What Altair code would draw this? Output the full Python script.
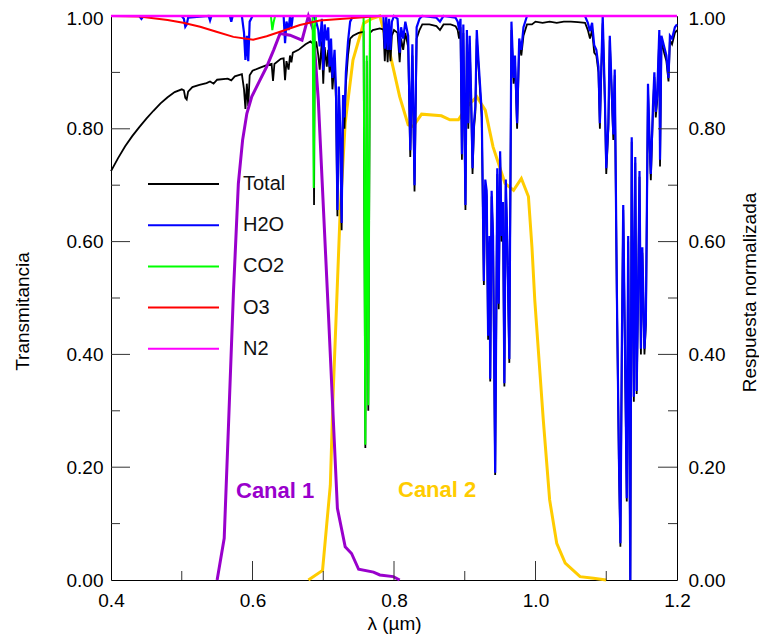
import altair as alt
import pandas as pd

# ---------------- data ----------------
total_lam = [0.400, 0.410, 0.420, 0.430, 0.440, 0.450, 0.460, 0.470, 0.480, 0.490,
             0.500, 0.503, 0.505, 0.507, 0.509, 0.515, 0.525, 0.535, 0.540, 0.545,
             0.550, 0.565, 0.570, 0.575, 0.585, 0.588, 0.590, 0.592, 0.594, 0.596,
             0.600, 0.610, 0.620, 0.627, 0.629, 0.631, 0.640, 0.644, 0.646, 0.648,
             0.651, 0.653, 0.655, 0.657, 0.665, 0.675, 0.682, 0.686, 0.687, 0.688,
             0.690, 0.693, 0.695, 0.698, 0.700, 0.702, 0.705, 0.707, 0.709, 0.711,
             0.713, 0.716, 0.718, 0.720, 0.722, 0.724, 0.726, 0.728, 0.730, 0.732,
             0.735, 0.738, 0.742, 0.750, 0.757, 0.7595, 0.7615, 0.7637, 0.766, 0.770,
             0.780, 0.785, 0.787, 0.789, 0.791, 0.793, 0.795, 0.797, 0.800, 0.805,
             0.808, 0.810, 0.813, 0.816, 0.820, 0.823, 0.826, 0.829, 0.832, 0.836,
             0.840, 0.850, 0.860, 0.865, 0.870, 0.880, 0.887, 0.890, 0.892, 0.894,
             0.896, 0.898, 0.901, 0.903, 0.905, 0.907, 0.909, 0.911, 0.913, 0.915,
             0.917, 0.919, 0.921, 0.924, 0.927, 0.929, 0.931, 0.933, 0.935, 0.936,
             0.938, 0.940, 0.943, 0.946, 0.948, 0.950, 0.952, 0.954, 0.956, 0.958,
             0.960, 0.963, 0.966, 0.969, 0.971, 0.974, 0.977, 0.980, 0.983, 0.988,
             0.995, 1.000, 1.010, 1.020, 1.030, 1.040, 1.050, 1.060, 1.070, 1.074,
             1.077, 1.080, 1.083, 1.086, 1.089, 1.091, 1.093, 1.095, 1.098, 1.100,
             1.103, 1.105, 1.108, 1.110, 1.112, 1.115, 1.118, 1.120, 1.122, 1.124,
             1.126, 1.129, 1.131, 1.132, 1.134, 1.136, 1.138, 1.139, 1.141, 1.143,
             1.145, 1.147, 1.149, 1.151, 1.154, 1.156, 1.159, 1.161, 1.163, 1.166,
             1.168, 1.170, 1.172, 1.175, 1.176, 1.178, 1.182, 1.185, 1.188, 1.190,
             1.193, 1.197, 1.200]
total_T = [0.725, 0.748, 0.769, 0.787, 0.803, 0.818, 0.832, 0.845, 0.856, 0.865,
           0.870, 0.868, 0.855, 0.852, 0.866, 0.874, 0.878, 0.881, 0.884, 0.880,
           0.887, 0.889, 0.886, 0.893, 0.897, 0.870, 0.835, 0.880, 0.840, 0.895,
           0.903, 0.908, 0.913, 0.915, 0.885, 0.915, 0.924, 0.925, 0.886, 0.920,
           0.905, 0.930, 0.918, 0.935, 0.940, 0.950, 0.955, 0.950, 0.665, 0.940,
           0.955, 0.930, 0.905, 0.955, 0.880, 0.945, 0.910, 0.940, 0.900, 0.930,
           0.870, 0.920, 0.850, 0.645, 0.860, 0.780, 0.620, 0.840, 0.800, 0.880,
           0.930, 0.960, 0.965, 0.970, 0.972, 0.234, 0.920, 0.300, 0.970, 0.975,
           0.978, 0.976, 0.920, 0.975, 0.918, 0.970, 0.920, 0.965, 0.975, 0.970,
           0.918, 0.960, 0.940, 0.970, 0.945, 0.750, 0.930, 0.689, 0.960, 0.975,
           0.985, 0.985, 0.982, 0.975, 0.985, 0.985, 0.982, 0.975, 0.960, 0.980,
           0.745, 0.970, 0.656, 0.960, 0.800, 0.950, 0.850, 0.720, 0.800, 0.830,
           0.960, 0.920, 0.880, 0.820, 0.523, 0.700, 0.680, 0.426, 0.600, 0.352,
           0.680, 0.600, 0.186, 0.720, 0.480, 0.750, 0.600, 0.660, 0.343, 0.700,
           0.600, 0.385, 0.975, 0.880, 0.920, 0.800, 0.950, 0.930, 0.965, 0.985,
           0.985, 0.990, 0.988, 0.990, 0.988, 0.990, 0.990, 0.989, 0.988, 0.975,
           0.960, 0.975, 0.935, 0.930, 0.900, 0.800, 0.900, 0.987, 0.850, 0.720,
           0.800, 0.957, 0.850, 0.780, 0.895, 0.500, 0.200, 0.059, 0.400, 0.656,
           0.450, 0.139, 0.600, 0.400, 0.000, 0.777, 0.450, 0.316, 0.740, 0.330,
           0.500, 0.715, 0.400, 0.580, 0.400, 0.452, 0.869, 0.780, 0.709, 0.830,
           0.892, 0.820, 0.850, 0.966, 0.733, 0.955, 0.934, 0.920, 0.884, 0.957,
           0.950, 0.970, 0.975]

h2o_lam = [0.400, 0.440, 0.443, 0.446, 0.500, 0.503, 0.505, 0.507, 0.509, 0.538,
           0.540, 0.542, 0.568, 0.570, 0.572, 0.585, 0.588, 0.590, 0.592, 0.594,
           0.596, 0.600, 0.644, 0.646, 0.648, 0.651, 0.653, 0.655, 0.657, 0.686,
           0.690, 0.693, 0.695, 0.698, 0.700, 0.702, 0.705, 0.707, 0.709, 0.711,
           0.713, 0.716, 0.718, 0.720, 0.722, 0.724, 0.726, 0.728, 0.730, 0.732,
           0.735, 0.738, 0.742, 0.785, 0.787, 0.789, 0.791, 0.793, 0.795, 0.797,
           0.800, 0.805, 0.808, 0.810, 0.813, 0.816, 0.820, 0.823, 0.826, 0.829,
           0.832, 0.836, 0.840, 0.860, 0.865, 0.870, 0.887, 0.890, 0.892, 0.894,
           0.896, 0.898, 0.901, 0.903, 0.905, 0.907, 0.909, 0.911, 0.913, 0.915,
           0.917, 0.919, 0.921, 0.924, 0.927, 0.929, 0.931, 0.933, 0.935, 0.936,
           0.938, 0.940, 0.943, 0.946, 0.948, 0.950, 0.952, 0.954, 0.956, 0.958,
           0.960, 0.963, 0.966, 0.969, 0.971, 0.974, 0.977, 0.980, 0.983, 0.988,
           1.070, 1.074, 1.077, 1.080, 1.083, 1.086, 1.089, 1.091, 1.093, 1.095,
           1.098, 1.100, 1.103, 1.105, 1.108, 1.110, 1.112, 1.115, 1.118, 1.120,
           1.122, 1.124, 1.126, 1.129, 1.131, 1.132, 1.134, 1.136, 1.138, 1.139,
           1.141, 1.143, 1.145, 1.147, 1.149, 1.151, 1.154, 1.156, 1.159, 1.161,
           1.163, 1.166, 1.168, 1.170, 1.172, 1.175, 1.176, 1.178, 1.182, 1.185,
           1.188, 1.190, 1.193, 1.197, 1.200]
h2o_T = [1.000, 1.000, 0.995, 1.000, 1.000, 0.995, 0.981, 0.985, 0.997, 1.000,
         0.992, 1.000, 1.000, 0.990, 1.000, 1.000, 0.970, 0.922, 0.965, 0.920,
         0.990, 1.000, 1.000, 0.952, 0.990, 0.975, 1.000, 0.980, 1.000, 1.000,
         0.990, 0.975, 0.946, 0.995, 0.904, 0.985, 0.957, 0.980, 0.910, 0.960,
         0.890, 0.940, 0.870, 0.656, 0.875, 0.800, 0.633, 0.860, 0.820, 0.900,
         0.955, 0.990, 1.000, 1.000, 0.942, 1.000, 0.940, 0.995, 0.940, 0.990,
         1.000, 0.995, 0.935, 0.980, 0.960, 0.990, 0.965, 0.762, 0.950, 0.700,
         0.980, 0.995, 1.000, 0.997, 0.990, 1.000, 0.997, 0.990, 0.975, 0.995,
         0.755, 0.985, 0.665, 0.975, 0.810, 0.965, 0.860, 0.730, 0.810, 0.840,
         0.975, 0.930, 0.890, 0.830, 0.530, 0.710, 0.690, 0.433, 0.610, 0.357,
         0.690, 0.610, 0.190, 0.730, 0.490, 0.760, 0.610, 0.670, 0.349, 0.710,
         0.610, 0.392, 0.990, 0.890, 0.930, 0.810, 0.960, 0.940, 0.980, 1.000,
         1.000, 0.988, 0.973, 0.988, 0.948, 0.940, 0.910, 0.810, 0.910, 1.000,
         0.860, 0.730, 0.810, 0.965, 0.860, 0.790, 0.905, 0.510, 0.210, 0.065,
         0.410, 0.665, 0.460, 0.145, 0.610, 0.410, 0.000, 0.785, 0.460, 0.325,
         0.750, 0.335, 0.510, 0.725, 0.410, 0.590, 0.410, 0.460, 0.880, 0.790,
         0.720, 0.840, 0.900, 0.830, 0.860, 0.975, 0.745, 0.965, 0.945, 0.930,
         0.890, 0.965, 0.960, 0.980, 0.985]

co2_lam = [0.400, 0.626, 0.628, 0.630, 0.632, 0.685, 0.6865, 0.688, 0.690, 0.757,
           0.7595, 0.7615, 0.7637, 0.766, 1.200]
co2_T = [1.000, 1.000, 0.975, 0.990, 1.000, 1.000, 0.695, 0.980, 1.000, 1.000,
         0.240, 0.930, 0.310, 1.000, 1.000]

o3_lam = [0.400, 0.440, 0.480, 0.502, 0.526, 0.549, 0.573, 0.601, 0.620, 0.639,
          0.667, 0.695, 0.738, 0.780, 1.200]
o3_T = [1.000, 0.999, 0.993, 0.988, 0.981, 0.972, 0.963, 0.958, 0.964, 0.972,
        0.984, 0.992, 0.996, 1.000, 1.000]

n2_lam = [0.400, 1.200]
n2_T = [1.000, 1.000]

canal1_lam = [0.550, 0.560, 0.566, 0.573, 0.580, 0.586, 0.592, 0.599, 0.610, 0.620,
              0.630, 0.639, 0.653, 0.670, 0.679, 0.686, 0.693, 0.707, 0.720, 0.726,
              0.731, 0.740, 0.750, 0.771, 0.780, 0.799, 0.808]
canal1_R = [0.000, 0.074, 0.272, 0.508, 0.703, 0.780, 0.827, 0.857, 0.885, 0.910,
            0.940, 0.969, 0.966, 0.957, 1.000, 0.975, 0.851, 0.480, 0.127, 0.090,
            0.059, 0.047, 0.019, 0.014, 0.009, 0.006, 0.000]

canal2_lam = [0.679, 0.699, 0.705, 0.710, 0.714, 0.718, 0.724, 0.731, 0.742, 0.757,
              0.770, 0.780, 0.794, 0.808, 0.820, 0.827, 0.839, 0.867, 0.879, 0.891,
              0.903, 0.917, 0.929, 0.940, 0.957, 0.969, 0.980, 0.990, 0.995, 0.999,
              1.011, 1.020, 1.030, 1.042, 1.063, 1.082, 1.100]
canal2_R = [0.000, 0.017, 0.100, 0.168, 0.331, 0.460, 0.656, 0.810, 0.922, 0.987,
            0.996, 1.000, 0.935, 0.857, 0.807, 0.804, 0.826, 0.823, 0.816, 0.816,
            0.839, 0.857, 0.833, 0.768, 0.703, 0.691, 0.712, 0.680, 0.590, 0.496,
            0.284, 0.142, 0.065, 0.030, 0.006, 0.003, 0.000]

x_tick_labels = [0.4, 0.6, 0.8, 1.0, 1.2]
y_tick_labels = [0.0, 0.2, 0.4, 0.6, 0.8, 1.0]
x_major_ticks = [0.6, 0.8, 1.0]
x_minor_ticks = [0.5, 0.7, 0.9, 1.1]
y_major_ticks = [0.2, 0.4, 0.6, 0.8]
y_minor_ticks = [0.1, 0.3, 0.5, 0.7, 0.9]

legend_names = ["Total", "H2O", "CO2", "O3", "N2"]
legend_colors = ["#000000", "#0000FF", "#00FF00", "#FF0000", "#FF00FF"]

# ---------------- chart ----------------
W, H = 566, 564
FONT = "Liberation Sans"

xscale = alt.Scale(domain=[0.4, 1.2], nice=False, zero=False)
yscale = alt.Scale(domain=[0.0, 1.0], nice=False, zero=False)

x_axis = alt.Axis(values=x_tick_labels, format=".1f", title="λ (µm)",
                  labelPadding=11, titlePadding=4, ticks=False, tickSize=0,
                  labelFlush=False, domain=False, grid=False)
X = alt.X("lam:Q", scale=xscale, axis=x_axis)

top_label_offset = {"condition": {"test": "datum.value >= 0.99", "value": 2}, "value": 0}

left_axis = alt.Axis(orient="left", values=y_tick_labels, format=".2f",
                     title="Transmitancia", labelPadding=8, ticks=False, tickSize=0,
                     labelFlush=False, labelOffset=top_label_offset,
                     domain=False, grid=False, titleX=-89, titleY=295,
                     titleAngle=270, titleBaseline="middle", titleAlign="center")
right_axis = alt.Axis(orient="right", values=y_tick_labels, format=".2f",
                      title="Respuesta normalizada", labelPadding=11, ticks=False,
                      tickSize=0, labelFlush=False, labelOffset=top_label_offset,
                      domain=False, grid=False,
                      titleX=72, titleY=276, titleAngle=270,
                      titleBaseline="middle", titleAlign="center")


def df(lam, val):
    return pd.DataFrame({"lam": lam, "T": val})


def line(lam, val, color, width, axis=None):
    return alt.Chart(df(lam, val)).mark_line(color=color, strokeWidth=width).encode(
        x=X, y=alt.Y("T:Q", scale=yscale, axis=axis))


layers = [
    line(canal2_lam, canal2_R, "#FFCC00", 3, right_axis),
    line(total_lam, total_T, "#000000", 1.8, left_axis),
    line(h2o_lam, h2o_T, "#0000FF", 2.2),
    line(canal1_lam, canal1_R, "#9900CC", 3),
    line(co2_lam, co2_T, "#00FF00", 2),
    line(o3_lam, o3_T, "#FF0000", 2),
    line(n2_lam, n2_T, "#FF00FF", 2.5),
]

# inward ticks
TICK = "#333333"
for vals, ln in [(y_major_ticks, 19), (y_minor_ticks, 9)]:
    d = pd.DataFrame({"T": vals})
    layers.append(alt.Chart(d).mark_rule(color=TICK, strokeWidth=1).encode(
        y=alt.Y("T:Q", scale=yscale, axis=None), x=alt.value(0), x2=alt.value(ln)))
    layers.append(alt.Chart(d).mark_rule(color=TICK, strokeWidth=1).encode(
        y=alt.Y("T:Q", scale=yscale, axis=None), x=alt.value(W), x2=alt.value(W - ln)))
for vals, ln in [(x_major_ticks, 19), (x_minor_ticks, 9)]:
    d = pd.DataFrame({"lam": vals})
    layers.append(alt.Chart(d).mark_rule(color=TICK, strokeWidth=1).encode(
        x=X, y=alt.value(H), y2=alt.value(H - ln)))

# legend
for i, (name, col) in enumerate(zip(legend_names, legend_colors)):
    yy = 168 + i * 41.2
    layers.append(alt.Chart().mark_rule(color=col, strokeWidth=2).encode(
        x=alt.value(37), x2=alt.value(108), y=alt.value(yy)))
    layers.append(alt.Chart().mark_text(text=name, align="left", baseline="middle",
                                        font=FONT, fontSize=20, color="#111111").encode(
        x=alt.value(132), y=alt.value(yy)))

# channel annotations
layers.append(alt.Chart().mark_text(text="Canal 1", align="left", baseline="alphabetic",
                                    font=FONT, fontSize=22, fontWeight="bold",
                                    color="#9900CC").encode(x=alt.value(125), y=alt.value(482)))
layers.append(alt.Chart().mark_text(text="Canal 2", align="left", baseline="alphabetic",
                                    font=FONT, fontSize=22, fontWeight="bold",
                                    color="#FFCC00").encode(x=alt.value(287), y=alt.value(481)))

chart = alt.layer(*layers).resolve_scale(y="shared").resolve_axis(y="independent").properties(
    width=W, height=H,
    autosize=alt.AutoSizeParams(type="none"),
    padding={"left": 103, "top": 8, "right": 82, "bottom": 54},
).configure_view(stroke="black", strokeWidth=1).configure_axis(
    labelFont=FONT, labelFontSize=19, labelColor="black",
    titleFont=FONT, titleFontSize=19, titleFontWeight="normal", titleColor="black",
)

chart.save("out.html", embed_options={"renderer": "svg", "actions": False})
